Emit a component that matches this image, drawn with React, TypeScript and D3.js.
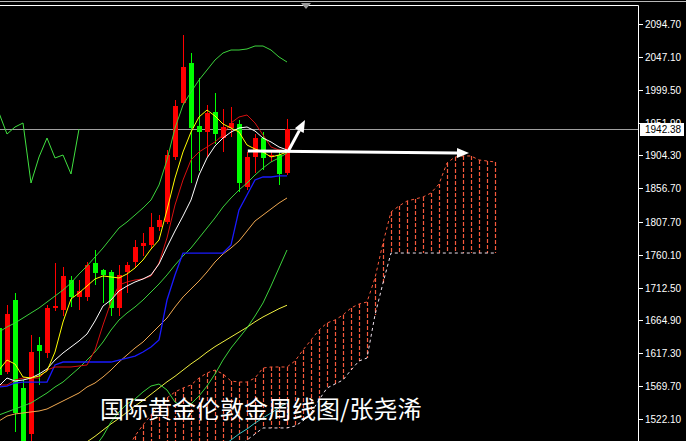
import React from "react";
import * as d3 from "d3";

// ---- Weekly XAUUSD candles ----
const candleOpen = [1654.0, 1590.2, 1694.6, 1567.0, 1500.4, 1629.4, 1617.8, 1683.0, 1680.1, 1723.6, 1699.0, 1699.0, 1748.3, 1738.1, 1735.2, 1683.0, 1735.2, 1749.7, 1772.9, 1774.3, 1800.4, 1807.7, 1901.9, 1980.2, 2038.2, 1946.8, 1938.1, 1967.1, 1929.4, 1943.9, 1949.7, 1858.4, 1901.9, 1929.4, 1901.9, 1904.8, 1878.7];
const candleHigh = [1658.4, 1687.4, 1704.8, 1578.6, 1643.9, 1641.0, 1687.4, 1748.3, 1742.5, 1729.4, 1723.6, 1749.7, 1767.1, 1739.6, 1738.1, 1745.4, 1749.7, 1781.6, 1791.7, 1820.7, 1817.8, 1912.1, 1984.5, 2078.8, 2052.7, 2016.4, 1977.3, 1994.7, 1971.5, 1974.4, 1955.5, 1909.2, 1935.2, 1938.1, 1912.1, 1910.6, 1957.0];
const candleLow = [1571.4, 1587.3, 1503.3, 1448.2, 1484.4, 1571.4, 1610.5, 1678.7, 1671.4, 1684.5, 1680.1, 1693.2, 1716.4, 1690.3, 1671.4, 1671.4, 1704.8, 1742.5, 1758.4, 1768.5, 1794.6, 1804.8, 1897.6, 1977.3, 1864.2, 1881.6, 1901.9, 1920.8, 1909.2, 1930.9, 1851.2, 1854.1, 1878.7, 1883.1, 1894.7, 1861.3, 1875.8];
const candleClose = [1585.9, 1674.3, 1530.8, 1462.7, 1619.2, 1620.7, 1683.0, 1685.9, 1729.4, 1699.0, 1707.7, 1745.4, 1733.8, 1730.9, 1683.0, 1730.9, 1745.4, 1771.4, 1777.2, 1800.4, 1810.6, 1904.8, 1975.8, 2032.4, 1943.9, 1938.1, 1965.7, 1935.2, 1945.4, 1951.2, 1864.2, 1901.9, 1929.4, 1900.5, 1904.8, 1877.3, 1942.38];

// ---- Ichimoku ----
const tenkan = [1571.4, 1571.4, 1578.6, 1581.5, 1581.5, 1581.5, 1593.1, 1597.5, 1597.5, 1597.5, 1598.9, 1600.4, 1622.1, 1658.4, 1691.7, 1716.4, 1720.7, 1723.6, 1725.1, 1729.4, 1748.3, 1784.5, 1832.3, 1868.6, 1897.6, 1909.2, 1916.4, 1923.7, 1933.8, 1951.2, 1959.9, 1962.8, 1951.2, 1933.8, 1916.4, 1912.1, 1910.6];
const kijun = [1568.5, 1569.9, 1574.3, 1575.7, 1575.7, 1575.7, 1575.7, 1600.4, 1604.7, 1604.7, 1604.7, 1604.7, 1604.7, 1604.7, 1604.7, 1607.6, 1610.5, 1613.4, 1619.2, 1626.5, 1636.6, 1694.6, 1730.9, 1762.7, 1762.7, 1762.7, 1762.7, 1762.7, 1762.7, 1774.3, 1825.1, 1846.8, 1868.6, 1872.9, 1872.9, 1874.4, 1874.4];
const chikouStart = -1;
const chikou = [1938.1, 1965.7, 1935.2, 1945.4, 1951.2, 1864.2, 1901.9, 1929.4, 1900.5, 1904.8, 1877.3, 1942.38];
const cloudStart = 16;
const spanA = [1477.2, 1497.5, 1513.4, 1527.9, 1542.4, 1552.6, 1561.3, 1567.0, 1571.4, 1581.5, 1588.8, 1593.1, 1587.3, 1577.2, 1575.7, 1575.7, 1581.5, 1596.0, 1597.5, 1597.5, 1597.5, 1606.2, 1622.1, 1636.6, 1651.1, 1661.3, 1665.6, 1672.9, 1683.0, 1688.8, 1691.7, 1726.5, 1777.2, 1822.2, 1830.9, 1838.1, 1841.0, 1843.9, 1849.7, 1862.8, 1893.2, 1901.9, 1903.4, 1903.4, 1897.6, 1896.1, 1894.7];
const spanB = [1433.7, 1433.7, 1433.7, 1433.7, 1433.7, 1433.7, 1433.7, 1433.7, 1433.7, 1433.7, 1455.4, 1462.7, 1469.9, 1474.3, 1481.5, 1491.7, 1500.4, 1509.1, 1509.1, 1509.1, 1509.1, 1512.0, 1519.2, 1530.8, 1549.7, 1567.0, 1572.8, 1578.6, 1593.1, 1606.2, 1610.5, 1672.9, 1719.3, 1762.7, 1762.7, 1762.7, 1762.7, 1762.7, 1762.7, 1762.7, 1762.7, 1762.7, 1762.7, 1762.7, 1762.7, 1762.7, 1762.7];

// ---- Bollinger bands ----
const bbUpper = [1648.2, 1655.5, 1661.3, 1668.5, 1675.8, 1683.0, 1691.7, 1700.4, 1709.1, 1719.3, 1732.3, 1743.9, 1756.9, 1770.0, 1784.5, 1799.0, 1807.7, 1817.8, 1828.0, 1839.6, 1861.3, 1897.6, 1943.9, 1977.3, 1996.1, 2013.5, 2028.0, 2042.5, 2052.7, 2057.0, 2057.0, 2058.5, 2062.8, 2062.8, 2057.0, 2046.9, 2039.6];
const bbMiddle = [1527.9, 1532.3, 1536.6, 1541.0, 1545.3, 1552.6, 1559.8, 1568.5, 1575.7, 1585.9, 1596.0, 1607.6, 1619.2, 1633.7, 1651.1, 1665.6, 1675.8, 1684.5, 1694.6, 1706.2, 1717.8, 1730.9, 1745.4, 1758.4, 1770.0, 1784.5, 1799.0, 1813.5, 1829.4, 1842.5, 1854.1, 1864.2, 1875.8, 1886.0, 1894.7, 1900.5, 1907.7];
const bbLowerStart = 12;
const bbLower = [1481.5, 1497.5, 1517.8, 1532.3, 1543.9, 1551.1, 1561.3, 1569.9, 1572.8, 1564.1, 1546.7, 1539.5, 1543.9, 1555.4, 1569.9, 1587.3, 1607.6, 1625.0, 1639.5, 1654.0, 1671.4, 1690.3, 1714.9, 1741.0, 1767.1];

// ---- Moving averages ----
const maYellow = [1593.1, 1607.6, 1601.8, 1583.0, 1581.5, 1584.4, 1591.7, 1619.2, 1662.7, 1696.1, 1704.8, 1714.9, 1725.1, 1729.4, 1728.0, 1726.5, 1732.3, 1741.0, 1752.6, 1768.5, 1781.6, 1825.1, 1871.5, 1909.2, 1938.1, 1959.9, 1970.0, 1961.3, 1949.7, 1943.9, 1938.1, 1919.3, 1913.5, 1909.2, 1901.9, 1904.8, 1909.2];
const maWhite = [1569.9, 1581.5, 1577.2, 1578.6, 1581.5, 1587.3, 1594.6, 1607.6, 1617.8, 1626.5, 1635.2, 1645.3, 1664.2, 1685.9, 1694.6, 1707.7, 1714.9, 1720.7, 1725.1, 1730.9, 1746.8, 1771.4, 1794.6, 1816.4, 1839.6, 1875.8, 1900.5, 1917.9, 1929.4, 1938.1, 1943.9, 1945.4, 1939.6, 1929.4, 1923.7, 1916.4, 1912.1];
const maOrange = [1519.2, 1526.4, 1529.4, 1530.8, 1532.3, 1533.7, 1536.6, 1542.4, 1548.2, 1554.0, 1559.8, 1568.5, 1574.3, 1583.0, 1593.1, 1604.7, 1614.9, 1625.0, 1633.7, 1645.3, 1656.9, 1668.5, 1684.5, 1699.0, 1710.6, 1722.1, 1735.2, 1749.7, 1761.3, 1770.0, 1780.1, 1794.6, 1809.1, 1817.8, 1826.5, 1835.2, 1842.5];
const maLongStart = 10;
const maLong = [1481, 1489, 1497, 1506, 1515, 1523, 1532, 1541, 1549, 1558, 1567, 1576, 1584, 1593, 1602, 1610, 1619, 1627, 1634, 1641, 1648, 1655, 1663, 1670, 1676, 1682, 1687];
const maCyanStart = 27;
const maCyan = [1474.3, 1482.9, 1491.7, 1500.4, 1507.6, 1516.3, 1523.6, 1530.8, 1538.1, 1545.3];

// ---- Axis ticks ----
const tickValues = [2094.7, 2047.1, 1999.5, 1951.9, 1904.3, 1856.7, 1807.7, 1760.1, 1712.5, 1664.9, 1617.3, 1569.7, 1522.1];
const tickLabels = ["2094.70", "2047.10", "1999.50", "1951.90", "1904.30", "1856.70", "1807.70", "1760.10", "1712.50", "1664.90", "1617.30", "1569.70", "1522.10"];
const currentLabel = "1942.38";
const title = "国际黄金伦敦金周线图/张尧浠";

// ---- Arrow annotations (bar index, price) ----
const arrowFromIdx = [31.1, 36.1];
const arrowFromPrice = [1910.6, 1909.2];
const arrowToIdx = [58.75, 38.25];
const arrowToPrice = [1907.7, 1955.5];

const W = 686;
const H = 441;
const PR = 638;

export default function App() {
  const x = d3.scaleLinear().domain([0, 62]).range([-1, 495]);
  const y = d3.scaleLinear().domain([1522.1, 2094.7]).range([419, 24]);
  const path = (vals: number[], start = 0) =>
    d3.line<number>().x((_, i) => x(i + start)).y((v) => y(v))(vals) || "";

  const lastClose = candleClose[candleClose.length - 1];
  const py = Math.round(y(lastClose)) + 0.5;

  const arrows = arrowFromIdx.map((_, i) => {
    const x1 = x(arrowFromIdx[i]), y1 = y(arrowFromPrice[i]);
    const x2 = x(arrowToIdx[i]), y2 = y(arrowToPrice[i]);
    const ang = Math.atan2(y2 - y1, x2 - x1);
    const L = 12, Wd = 5;
    const bx = x2 - L * Math.cos(ang), by = y2 - L * Math.sin(ang);
    const nx = -Math.sin(ang), ny = Math.cos(ang);
    const head = `${x2},${y2} ${bx + nx * Wd},${by + ny * Wd} ${bx - nx * Wd},${by - ny * Wd}`;
    return { x1, y1, bx, by, head };
  });

  const hatch = "#f85a3c";

  return (
    <div style={{ position: "fixed", left: 0, top: 0, width: W, height: H, background: "#000" }}>
      <svg width={W} height={H} style={{ display: "block" }}>
        <defs>
          <clipPath id="plotClip">
            <rect x={0} y={6} width={PR} height={H - 6} />
          </clipPath>
        </defs>
        <rect x={0} y={0} width={W} height={H} fill="#000" />
        <g clipPath="url(#plotClip)">
          {/* cloud hatch */}
          {spanA.map((a, i) => {
            const xi = Math.round(x(i + cloudStart)) + 0.5;
            return (
              <line key={"h" + i} x1={xi} x2={xi} y1={y(a)} y2={y(spanB[i])}
                stroke={hatch} strokeWidth={1.2} strokeDasharray="4,2" />
            );
          })}
          <path d={path(spanA, cloudStart)} fill="none" stroke={hatch} strokeWidth={1} strokeDasharray="3,3" />
          <path d={path(spanB, cloudStart)} fill="none" stroke="#ece0ec" strokeWidth={1} strokeDasharray="3,3" />

          {/* current price line */}
          <line x1={0} x2={PR} y1={py} y2={py} stroke="#a0a0a0" strokeWidth={1} />

          {/* candles */}
          {candleOpen.map((o, i) => {
            const c = candleClose[i];
            const up = c >= o;
            const col = up ? "#ff0000" : "#00ff00";
            const cx = Math.round(x(i));
            const top = y(Math.max(o, c));
            const bot = y(Math.min(o, c));
            return (
              <g key={"c" + i} shapeRendering="crispEdges">
                <line x1={cx + 0.5} x2={cx + 0.5} y1={y(candleHigh[i])} y2={y(candleLow[i])} stroke={col} strokeWidth={1} />
                <rect x={cx - 2} y={top} width={5} height={Math.max(1, bot - top)} fill={col} />
              </g>
            );
          })}

          {/* indicator lines */}
          <path d={path(maCyan, maCyanStart)} fill="none" stroke="#3cc8c8" strokeWidth={1} />
          <path d={path(maLong, maLongStart)} fill="none" stroke="#f0f040" strokeWidth={1} />
          <path d={path(maOrange)} fill="none" stroke="#f0a850" strokeWidth={1} />
          <path d={path(bbUpper)} fill="none" stroke="#3cd23c" strokeWidth={1} />
          <path d={path(bbMiddle)} fill="none" stroke="#3cd23c" strokeWidth={1} />
          <path d={path(bbLower, bbLowerStart)} fill="none" stroke="#3cd23c" strokeWidth={1} />
          <path d={path(kijun)} fill="none" stroke="#1a1aff" strokeWidth={1.3} />
          <path d={path(tenkan)} fill="none" stroke="#d81010" strokeWidth={1} />
          <path d={path(maWhite)} fill="none" stroke="#ffffff" strokeWidth={1} />
          <path d={path(maYellow)} fill="none" stroke="#ffff00" strokeWidth={1} />
          <path d={path(chikou, chikouStart)} fill="none" stroke="#40e040" strokeWidth={1} />

          {/* arrows */}
          {arrows.map((a, i) => (
            <g key={"a" + i}>
              <line x1={a.x1} y1={a.y1} x2={a.bx} y2={a.by} stroke="#fff" strokeWidth={3} />
              <polygon points={a.head} fill="#fff" />
            </g>
          ))}
        </g>

        {/* frame */}
        <line x1={0} x2={W} y1={1.5} y2={1.5} stroke="#b8b8b8" strokeWidth={1} />
        <line x1={0} x2={PR + 0.5} y1={5.5} y2={5.5} stroke="#ffffff" strokeWidth={1} />
        <line x1={PR + 0.5} x2={PR + 0.5} y1={5.5} y2={H} stroke="#ffffff" strokeWidth={1} />
        <polygon points="301,3 311,3 306,9" fill="#9a9a9a" />

        {/* title */}
        <text x={100} y={418} fill="#ffffff" fontSize={24} fontFamily="'Noto Sans CJK SC', sans-serif">{title}</text>

        {/* axis */}
        {tickValues.map((v, i) => {
          const ty = Math.round(y(v)) + 0.5;
          return (
            <g key={"t" + i}>
              <line x1={PR + 1} x2={PR + 5} y1={ty} y2={ty} stroke="#ffffff" strokeWidth={1} />
              <text x={645} y={ty} dy="0.35em" fill="#ffffff" fontSize={10} fontFamily="'Liberation Sans', Arial, sans-serif">{tickLabels[i]}</text>
            </g>
          );
        })}
        <rect x={640} y={py - 6.5} width={44} height={13} fill="#ffffff" />
        <text x={645} y={py} dy="0.35em" fill="#000000" fontSize={10} fontFamily="'Liberation Sans', Arial, sans-serif">{currentLabel}</text>
      </svg>
    </div>
  );
}
